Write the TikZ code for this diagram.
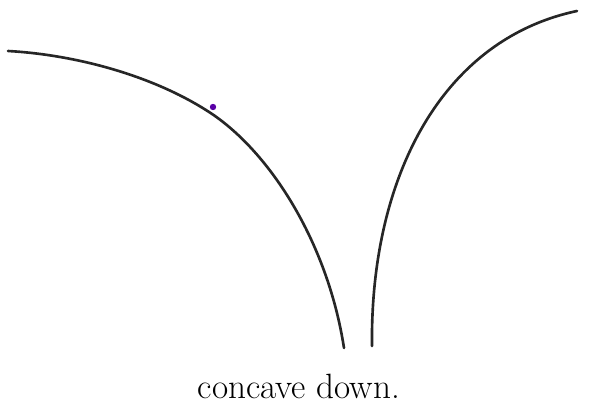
\documentclass[tikz,border=0pt]{standalone}
\usepackage{tikz}

\begin{document}
\begin{tikzpicture}[x=0.02cm, y=-0.02cm, curve/.style={line width=1.5pt, line cap=round, color=black!85}]
    \useasboundingbox (0, 0) rectangle (589, 412);
    \draw[curve] (8, 51) .. controls (80, 55) and (160, 78) .. (215, 116)
        .. controls (273, 157) and (328, 245) .. (344, 348);
    \draw[curve] (372, 346) .. controls (370, 180) and (440, 40) .. (577, 11);
    \fill[violet!70!blue] (213, 107) circle (3.2);
    \node (label) at (299, 386) {\fontsize{20}{24}\selectfont concave down.};
\end{tikzpicture}
\end{document}
